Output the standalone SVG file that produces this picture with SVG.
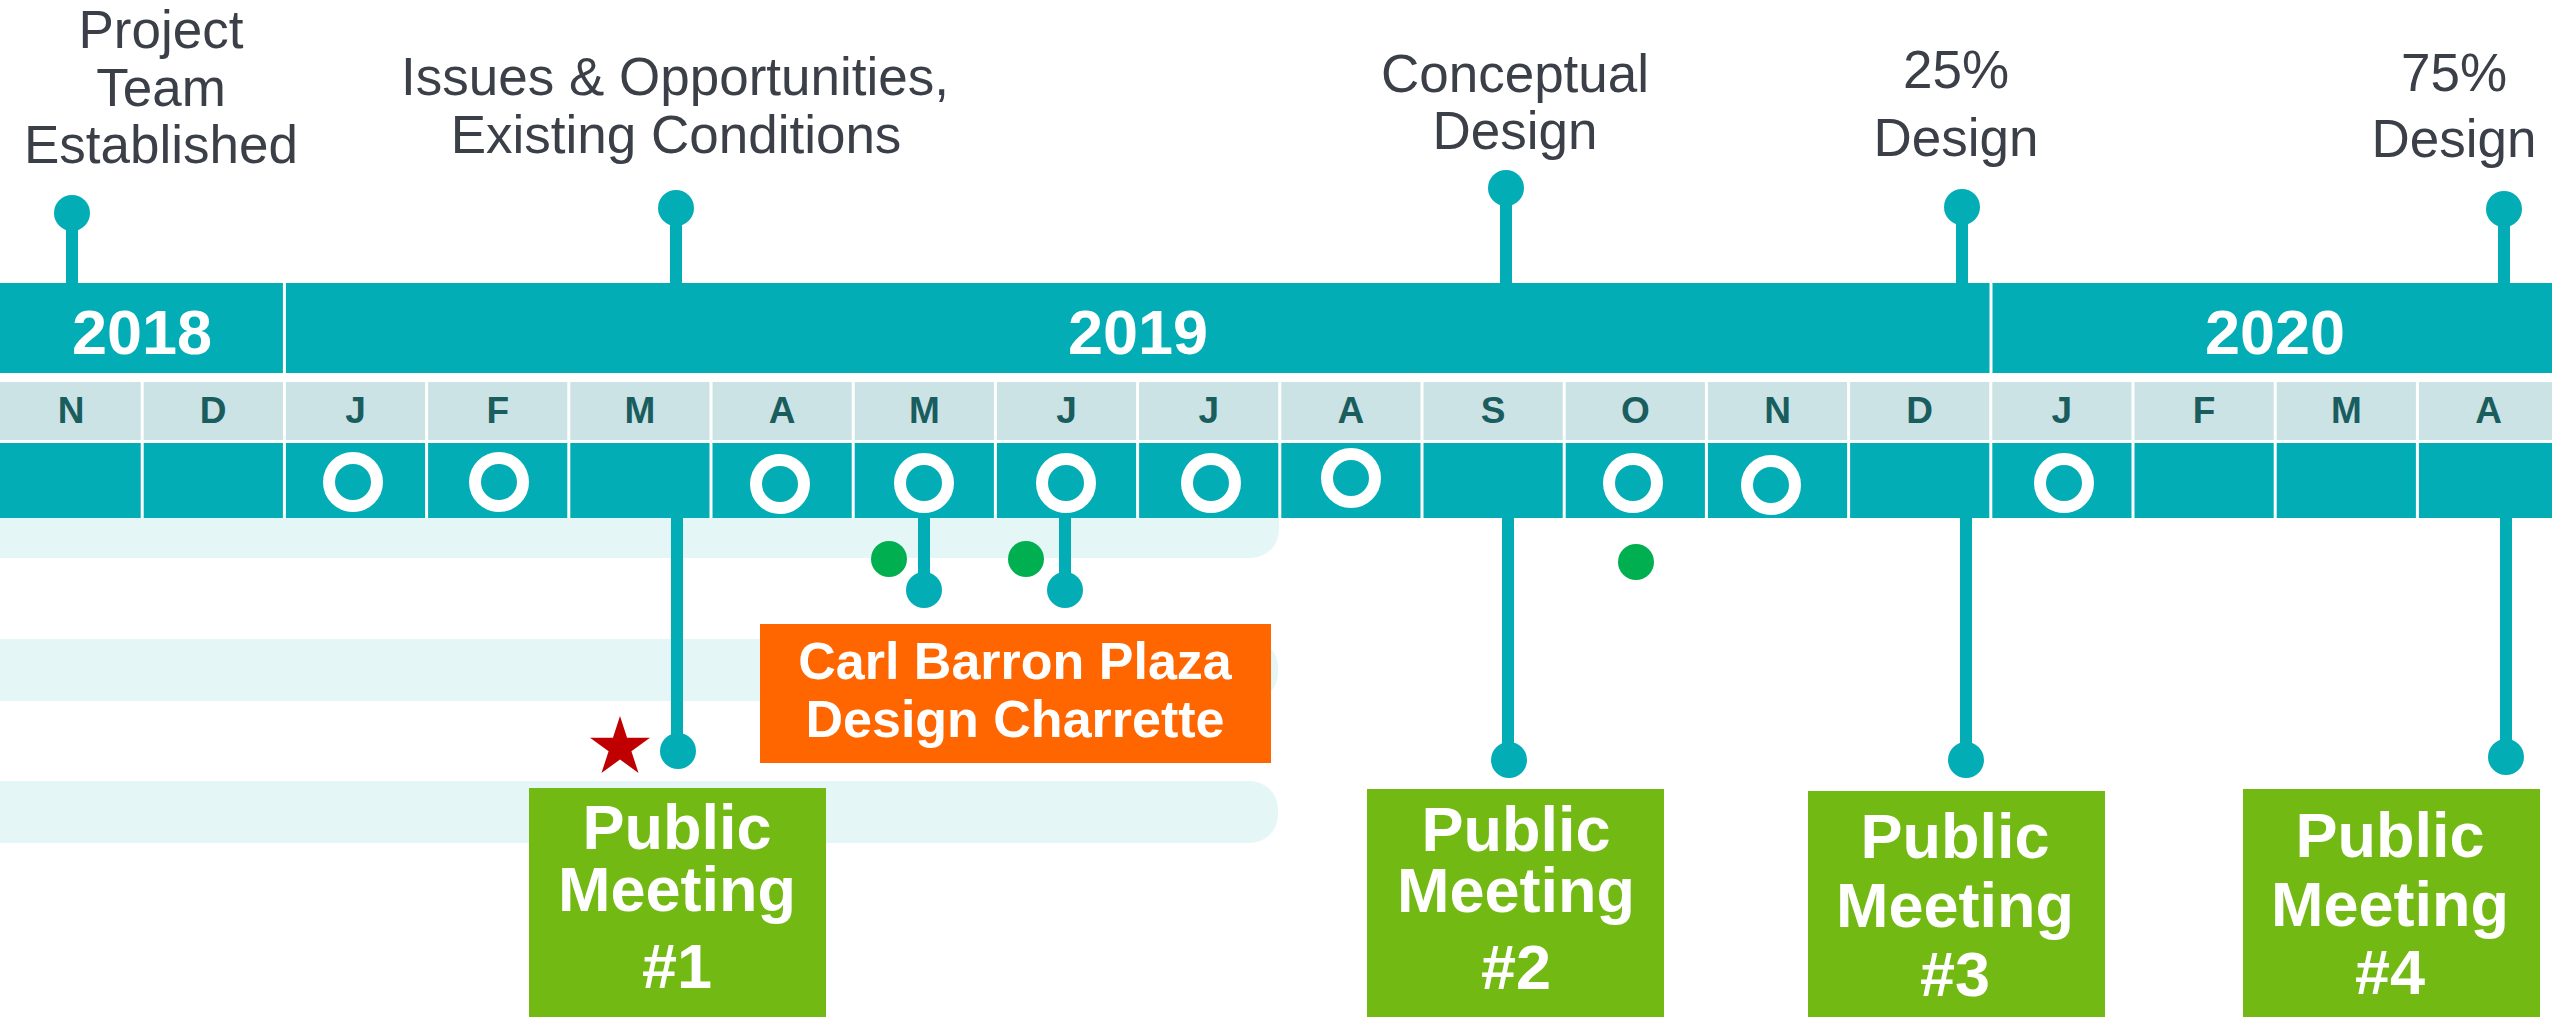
<svg xmlns="http://www.w3.org/2000/svg" width="2552" height="1017" viewBox="0 0 2552 1017">
<defs>
<style>
.lbl{font-family:"Liberation Sans",Arial,sans-serif;font-size:53px;fill:#3b3f47;text-anchor:middle}
.yr{font-family:"Liberation Sans",Arial,sans-serif;font-size:63px;font-weight:bold;fill:#ffffff;text-anchor:middle}
.mo{font-family:"Liberation Sans",Arial,sans-serif;font-size:37px;font-weight:bold;fill:#1a5d5e;text-anchor:middle}
.pm{font-family:"Liberation Sans",Arial,sans-serif;font-size:63px;font-weight:bold;fill:#ffffff;text-anchor:middle}
.or{font-family:"Liberation Sans",Arial,sans-serif;font-size:52px;font-weight:bold;fill:#ffffff;text-anchor:middle}
.teal{fill:#02adb5}
.mcell{fill:#cce3e5}
.band{fill:#e5f6f7}
.ring{fill:none;stroke:#ffffff;stroke-width:12}
.stem{stroke:#02adb5;stroke-width:12;fill:none}
.head{fill:#02adb5}
.gdot{fill:#00b050}
.pmbox{fill:#72b913}
</style>
</defs>
<rect width="2552" height="1017" fill="#ffffff"/>

<!-- background bands -->
<g id="bands">
<path class="band" d="M0 518 H1279 V530 A28 28 0 0 1 1251 558 H0 Z"/>
<path class="band" d="M0 639 H1250 A28 28 0 0 1 1278 667 V673 A28 28 0 0 1 1250 701 H0 Z"/>
<path class="band" d="M0 781 H1250 A28 28 0 0 1 1278 809 V815 A28 28 0 0 1 1250 843 H0 Z"/>
</g>

<!-- year bar -->
<g id="years">
<rect class="teal" x="0" y="283" width="2552" height="90"/>
<rect x="282.9" y="283" width="3" height="90" fill="#ffffff"/>
<rect x="1989.5" y="283" width="3" height="90" fill="#ffffff"/>
<text class="yr" x="142" y="354">2018</text>
<text class="yr" x="1138" y="354">2019</text>
<text class="yr" x="2275" y="354">2020</text>
</g>

<!-- month row -->
<g id="months">
<rect class="mcell" x="0" y="382" width="2552" height="58"/>
<rect class="teal" x="0" y="443" width="2552" height="75"/>
<g fill="#ffffff">
<rect x="140.7" y="382" width="3" height="136"/>
<rect x="282.9" y="382" width="3" height="136"/>
<rect x="425.1" y="382" width="3" height="136"/>
<rect x="567.3" y="382" width="3" height="136"/>
<rect x="709.5" y="382" width="3" height="136"/>
<rect x="851.7" y="382" width="3" height="136"/>
<rect x="993.9" y="382" width="3" height="136"/>
<rect x="1136.1" y="382" width="3" height="136"/>
<rect x="1278.3" y="382" width="3" height="136"/>
<rect x="1420.5" y="382" width="3" height="136"/>
<rect x="1562.7" y="382" width="3" height="136"/>
<rect x="1704.9" y="382" width="3" height="136"/>
<rect x="1847.1" y="382" width="3" height="136"/>
<rect x="1989.3" y="382" width="3" height="136"/>
<rect x="2131.5" y="382" width="3" height="136"/>
<rect x="2273.7" y="382" width="3" height="136"/>
<rect x="2415.9" y="382" width="3" height="136"/>
</g>
<text class="mo" x="71" y="423">N</text>
<text class="mo" x="213" y="423">D</text>
<text class="mo" x="355.5" y="423">J</text>
<text class="mo" x="497.7" y="423">F</text>
<text class="mo" x="639.9" y="423">M</text>
<text class="mo" x="782.1" y="423">A</text>
<text class="mo" x="924.3" y="423">M</text>
<text class="mo" x="1066.5" y="423">J</text>
<text class="mo" x="1208.7" y="423">J</text>
<text class="mo" x="1350.9" y="423">A</text>
<text class="mo" x="1493.1" y="423">S</text>
<text class="mo" x="1635.3" y="423">O</text>
<text class="mo" x="1777.5" y="423">N</text>
<text class="mo" x="1919.7" y="423">D</text>
<text class="mo" x="2061.9" y="423">J</text>
<text class="mo" x="2204.1" y="423">F</text>
<text class="mo" x="2346.3" y="423">M</text>
<text class="mo" x="2488.5" y="423">A</text>
<circle class="ring" cx="353" cy="482" r="24"/>
<circle class="ring" cx="499" cy="482" r="24"/>
<circle class="ring" cx="780" cy="484" r="24"/>
<circle class="ring" cx="924" cy="483" r="24"/>
<circle class="ring" cx="1066" cy="483" r="24"/>
<circle class="ring" cx="1211" cy="483" r="24"/>
<circle class="ring" cx="1351" cy="478" r="24"/>
<circle class="ring" cx="1633" cy="483" r="24"/>
<circle class="ring" cx="1771" cy="485" r="24"/>
<circle class="ring" cx="2064" cy="483" r="24"/>
</g>

<!-- connectors (pins) -->
<g id="connectors">
<line class="stem" x1="72" y1="213" x2="72" y2="284"/>
<line class="stem" x1="676" y1="208" x2="676" y2="284"/>
<line class="stem" x1="1506" y1="188" x2="1506" y2="284"/>
<line class="stem" x1="1962" y1="207" x2="1962" y2="284"/>
<line class="stem" x1="2504" y1="209" x2="2504" y2="284"/>
<circle class="head" cx="72" cy="213" r="18"/>
<circle class="head" cx="676" cy="208" r="18"/>
<circle class="head" cx="1506" cy="188" r="18"/>
<circle class="head" cx="1962" cy="207" r="18"/>
<circle class="head" cx="2504" cy="209" r="18"/>
<line class="stem" x1="677" y1="518" x2="677" y2="751"/>
<line class="stem" x1="924" y1="518" x2="924" y2="590"/>
<line class="stem" x1="1065" y1="518" x2="1065" y2="590"/>
<line class="stem" x1="1508" y1="518" x2="1508" y2="760"/>
<line class="stem" x1="1966" y1="518" x2="1966" y2="760"/>
<line class="stem" x1="2506" y1="518" x2="2506" y2="757"/>
<circle class="head" cx="678" cy="751" r="18"/>
<circle class="head" cx="924" cy="590" r="18"/>
<circle class="head" cx="1065" cy="590" r="18"/>
<circle class="head" cx="1509" cy="760" r="18"/>
<circle class="head" cx="1966" cy="760" r="18"/>
<circle class="head" cx="2506" cy="757" r="18"/>
</g>

<!-- green dots and star -->
<g id="markers">
<circle class="gdot" cx="889" cy="559" r="18"/>
<circle class="gdot" cx="1026" cy="559" r="18"/>
<circle class="gdot" cx="1636" cy="562" r="18"/>
<polygon fill="#c00000" points="620,716 627.05,737.8 649.96,737.77 631.41,751.2 638.52,772.98 620,759.5 601.48,772.98 608.59,751.2 590.04,737.77 612.95,737.8"/>
</g>

<!-- milestone labels -->
<g id="m-project-team">
<text class="lbl" x="161" y="48">Project</text>
<text class="lbl" x="161" y="106">Team</text>
<text class="lbl" x="161" y="163">Established</text>
</g>
<g id="m-issues">
<text class="lbl" x="675" y="95">Issues &amp; Opportunities,</text>
<text class="lbl" x="676" y="153">Existing Conditions</text>
</g>
<g id="m-conceptual">
<text class="lbl" x="1515" y="92">Conceptual</text>
<text class="lbl" x="1515" y="149">Design</text>
</g>
<g id="m-25">
<text class="lbl" x="1956" y="88">25%</text>
<text class="lbl" x="1956" y="156">Design</text>
</g>
<g id="m-75">
<text class="lbl" x="2454" y="91">75%</text>
<text class="lbl" x="2454" y="157">Design</text>
</g>

<!-- charrette -->
<g id="charrette">
<rect x="760" y="624" width="511" height="139" fill="#ff6600"/>
<text class="or" x="1015" y="679">Carl Barron Plaza</text>
<text class="or" x="1015" y="737">Design Charrette</text>
</g>

<!-- public meetings -->
<g id="pm1">
<rect class="pmbox" x="529" y="788" width="297" height="229"/>
<text class="pm" x="677" y="849">Public</text>
<text class="pm" x="677" y="911">Meeting</text>
<text class="pm" x="677" y="988">#1</text>
</g>
<g id="pm2">
<rect class="pmbox" x="1367" y="789" width="297" height="228"/>
<text class="pm" x="1516" y="851">Public</text>
<text class="pm" x="1516" y="912">Meeting</text>
<text class="pm" x="1516" y="989">#2</text>
</g>
<g id="pm3">
<rect class="pmbox" x="1808" y="791" width="297" height="226"/>
<text class="pm" x="1955" y="858">Public</text>
<text class="pm" x="1955" y="927">Meeting</text>
<text class="pm" x="1955" y="996">#3</text>
</g>
<g id="pm4">
<rect class="pmbox" x="2243" y="789" width="297" height="228"/>
<text class="pm" x="2390" y="857">Public</text>
<text class="pm" x="2390" y="926">Meeting</text>
<text class="pm" x="2390" y="994">#4</text>
</g>
</svg>
